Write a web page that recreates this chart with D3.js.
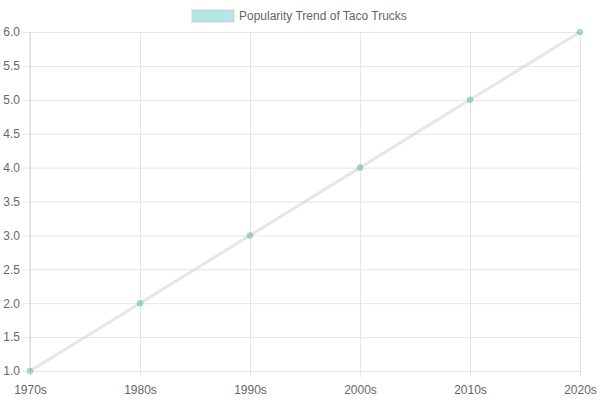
<!DOCTYPE html>
<html>
<head>
<meta charset="utf-8">
<script src="https://cdn.jsdelivr.net/npm/d3@7"></script>
<style>
  body { margin: 0; background: #fff; }
  text { font-family: "Liberation Sans", Arial, sans-serif; }
</style>
</head>
<body>
<script>
// data
const decades = ["1970s", "1980s", "1990s", "2000s", "2010s", "2020s"];
const popularity = [1, 2, 3, 4, 5, 6];
const yTicks = [1.0, 1.5, 2.0, 2.5, 3.0, 3.5, 4.0, 4.5, 5.0, 5.5, 6.0];
const seriesName = "Popularity Trend of Taco Trucks";

const canvWidth = 600, canvHeight = 400;
const margin = {top: 32, right: 20, bottom: 29, left: 30};
const width = canvWidth - margin.left - margin.right;
const height = canvHeight - margin.top - margin.bottom;

const svg = d3.select("body").append("svg")
    .attr("width", canvWidth)
    .attr("height", canvHeight);

// legend
const legend = svg.append("g").attr("transform", "translate(192,10)");
legend.append("rect")
    .attr("x", 0.5).attr("y", 0.5)
    .attr("width", 41).attr("height", 11)
    .attr("fill", "#b3e6e6")
    .attr("stroke", "#c2dcd6")
    .attr("stroke-width", 2);
legend.append("text")
    .attr("x", 47).attr("y", 10)
    .attr("font-size", "12px")
    .attr("fill", "#666")
    .text(seriesName);

const g = svg.append("g")
    .attr("transform", "translate(" + margin.left + "," + margin.top + ")");

const xScale = d3.scalePoint()
    .domain(decades)
    .range([0, width]);

const yScale = d3.scaleLinear()
    .domain([1, 6])
    .range([height, 0]);

// x axis with full-height grid
const xAxis = d3.axisBottom(xScale)
    .tickSize(-height)
    .tickPadding(12);
const xg = g.append("g")
    .attr("transform", "translate(0," + height + ")")
    .call(xAxis);
xg.select(".domain").attr("stroke", "#e0e0e0");
xg.selectAll(".tick line").attr("stroke", "#e5e5e5").attr("y2", -height).attr("y1", 6);
xg.selectAll(".tick text").attr("fill", "#666").attr("font-size", "12px")
    .attr("font-family", "Liberation Sans, Arial, sans-serif").attr("dy", "0.9em");

// y axis with grid
const yAxis = d3.axisLeft(yScale)
    .tickValues(yTicks)
    .tickFormat(d3.format(".1f"))
    .tickSize(-width)
    .tickPadding(10);
const yg = g.append("g").call(yAxis);
yg.select(".domain").remove();
yg.selectAll(".tick line").attr("stroke", "#e5e5e5").attr("x1", -7).attr("x2", width);
yg.selectAll(".tick text").attr("fill", "#666").attr("font-size", "12px")
    .attr("font-family", "Liberation Sans, Arial, sans-serif");

// left axis line
g.append("line")
    .attr("x1", 0).attr("x2", 0)
    .attr("y1", 0).attr("y2", height)
    .attr("stroke", "#d9d9d9");

// line
const line = d3.line()
    .x((d, i) => xScale(decades[i]))
    .y(d => yScale(d));
g.append("path")
    .datum(popularity)
    .attr("fill", "none")
    .attr("stroke", "rgba(200,200,200,0.45)")
    .attr("stroke-width", 3)
    .attr("d", line);

// points
g.selectAll("circle")
    .data(popularity)
    .join("circle")
    .attr("cx", (d, i) => xScale(decades[i]))
    .attr("cy", d => yScale(d))
    .attr("r", 3)
    .attr("fill", "rgba(75,180,150,0.45)")
    .attr("stroke", "rgba(75,192,160,0.3)")
    .attr("stroke-width", 1);
</script>
</body>
</html>
